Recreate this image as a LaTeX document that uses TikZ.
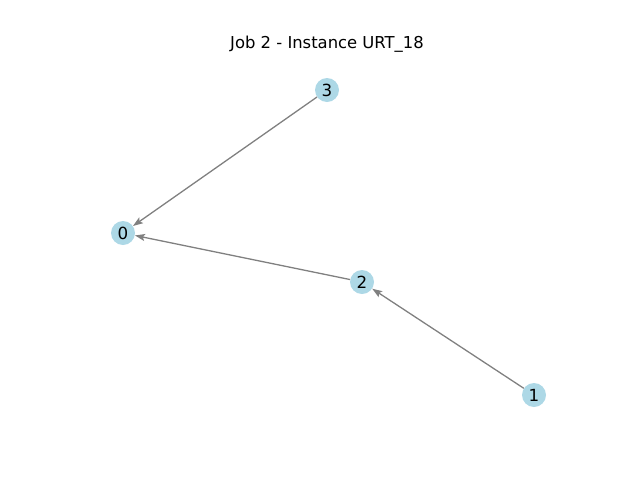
\documentclass[tikz,border=0pt]{standalone}
\usepackage{fontspec}
\setmainfont{DejaVu Sans}
\usetikzlibrary{arrows.meta}
\definecolor{nodeblue}{RGB}{173,216,230}
\tikzset{
  gnode/.style={circle, fill=nodeblue, minimum size=24pt, inner sep=0pt, font=\fontsize{16.7}{20}\selectfont},
  gedge/.style={draw=gray, line width=1.3pt, -{Stealth[length=10pt,width=7pt,inset=2pt]}, shorten >=0pt}
}
\begin{document}
\begin{tikzpicture}[x=1pt,y=-1pt]
\useasboundingbox (0,0) rectangle (640,480);
\node[font=\fontsize{16.4}{20}\selectfont] (title) at (327,44) {Job 2 - Instance URT\_18};
\node[gnode] (n3) at (327,90) {3};
\node[gnode] (n0) at (123,233) {0};
\node[gnode] (n2) at (362,282) {2};
\node[gnode] (n1) at (534,395) {1};
\draw[gedge] (n3) -- (n0);
\draw[gedge] (n2) -- (n0);
\draw[gedge] (n1) -- (n2);
\end{tikzpicture}
\end{document}
